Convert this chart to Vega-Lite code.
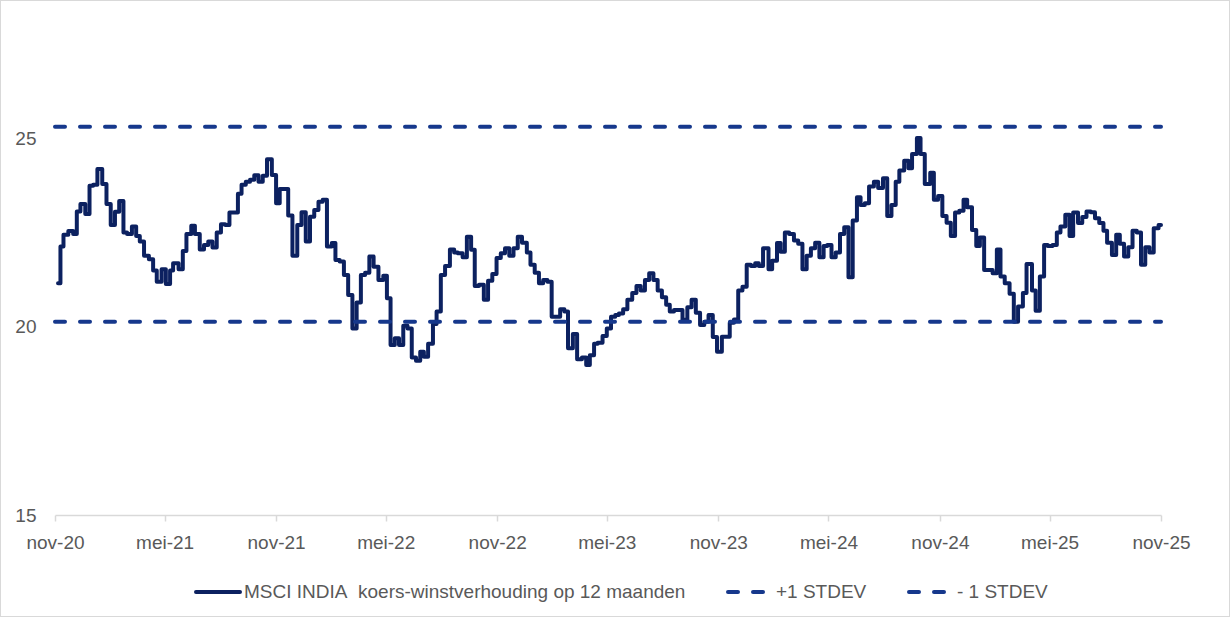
{
  "$schema": "https://vega.github.io/schema/vega-lite/v6.json",
  "width": 1230,
  "height": 617,
  "autosize": {"type": "none"},
  "padding": 0,
  "background": "white",
  "config": {
    "view": {"stroke": "#D9D9D9", "strokeWidth": 2},
    "font": "Liberation Sans"
  },
  "data": {
    "values": [
      {"d":"2020-11-06","v":21.16,"s":"a"},{"d":"2020-11-10","v":22.14,"s":"a"},{"d":"2020-11-15","v":22.45,"s":"a"},{"d":"2020-11-23","v":22.55,"s":"a"},
      {"d":"2020-12-01","v":22.47,"s":"a"},{"d":"2020-12-07","v":23.07,"s":"a"},{"d":"2020-12-13","v":23.27,"s":"a"},{"d":"2020-12-21","v":23.0,"s":"a"},
      {"d":"2020-12-28","v":23.75,"s":"a"},{"d":"2021-01-03","v":23.78,"s":"a"},{"d":"2021-01-10","v":24.2,"s":"a"},{"d":"2021-01-18","v":23.8,"s":"a"},
      {"d":"2021-01-25","v":23.27,"s":"a"},{"d":"2021-02-01","v":22.71,"s":"a"},{"d":"2021-02-08","v":23.06,"s":"a"},{"d":"2021-02-15","v":23.35,"s":"a"},
      {"d":"2021-02-22","v":22.51,"s":"a"},{"d":"2021-02-28","v":22.47,"s":"a"},{"d":"2021-03-08","v":22.67,"s":"a"},{"d":"2021-03-15","v":22.42,"s":"a"},
      {"d":"2021-03-21","v":22.27,"s":"a"},{"d":"2021-03-28","v":21.89,"s":"a"},{"d":"2021-04-05","v":21.8,"s":"a"},{"d":"2021-04-12","v":21.5,"s":"a"},
      {"d":"2021-04-18","v":21.2,"s":"a"},{"d":"2021-04-26","v":21.53,"s":"a"},{"d":"2021-05-03","v":21.14,"s":"a"},{"d":"2021-05-10","v":21.5,"s":"a"},
      {"d":"2021-05-15","v":21.69,"s":"a"},{"d":"2021-05-24","v":21.53,"s":"a"},{"d":"2021-05-31","v":22.02,"s":"a"},{"d":"2021-06-06","v":22.47,"s":"a"},
      {"d":"2021-06-14","v":22.69,"s":"a"},{"d":"2021-06-20","v":22.47,"s":"a"},{"d":"2021-06-28","v":22.06,"s":"a"},{"d":"2021-07-05","v":22.18,"s":"a"},
      {"d":"2021-07-12","v":22.27,"s":"a"},{"d":"2021-07-19","v":22.11,"s":"a"},{"d":"2021-07-26","v":22.51,"s":"a"},{"d":"2021-08-02","v":22.73,"s":"a"},
      {"d":"2021-08-09","v":22.71,"s":"a"},{"d":"2021-08-16","v":23.04,"s":"a"},{"d":"2021-08-30","v":23.54,"s":"a"},{"d":"2021-09-05","v":23.78,"s":"a"},
      {"d":"2021-09-12","v":23.86,"s":"a"},{"d":"2021-09-19","v":23.91,"s":"a"},{"d":"2021-09-26","v":24.03,"s":"a"},{"d":"2021-10-03","v":23.86,"s":"a"},
      {"d":"2021-10-10","v":24.02,"s":"a"},{"d":"2021-10-17","v":24.46,"s":"a"},{"d":"2021-10-25","v":24.04,"s":"a"},{"d":"2021-11-01","v":23.29,"s":"a"},
      {"d":"2021-11-07","v":23.67,"s":"a"},{"d":"2021-11-21","v":22.96,"s":"a"},{"d":"2021-11-28","v":21.89,"s":"a"},{"d":"2021-12-06","v":22.71,"s":"a"},
      {"d":"2021-12-13","v":23.05,"s":"a"},{"d":"2021-12-20","v":22.27,"s":"a"},{"d":"2021-12-27","v":22.93,"s":"a"},{"d":"2022-01-03","v":23.11,"s":"a"},
      {"d":"2022-01-10","v":23.33,"s":"a"},{"d":"2022-01-17","v":23.38,"s":"a"},{"d":"2022-01-24","v":22.14,"s":"a"},{"d":"2022-02-01","v":22.23,"s":"a"},
      {"d":"2022-02-07","v":21.78,"s":"a"},{"d":"2022-02-14","v":21.74,"s":"a"},{"d":"2022-02-21","v":21.38,"s":"a"},{"d":"2022-02-28","v":20.85,"s":"a"},
      {"d":"2022-03-07","v":19.96,"s":"a"},{"d":"2022-03-14","v":20.65,"s":"a"},{"d":"2022-03-21","v":21.38,"s":"a"},{"d":"2022-03-28","v":21.44,"s":"a"},
      {"d":"2022-04-04","v":21.87,"s":"a"},{"d":"2022-04-11","v":21.6,"s":"a"},{"d":"2022-04-19","v":21.25,"s":"a"},{"d":"2022-04-27","v":21.36,"s":"a"},
      {"d":"2022-05-03","v":20.76,"s":"a"},{"d":"2022-05-09","v":19.52,"s":"a"},{"d":"2022-05-16","v":19.7,"s":"a"},{"d":"2022-05-23","v":19.52,"s":"a"},
      {"d":"2022-05-30","v":20.03,"s":"a"},{"d":"2022-06-06","v":19.96,"s":"a"},{"d":"2022-06-13","v":19.19,"s":"a"},{"d":"2022-06-20","v":19.1,"s":"a"},
      {"d":"2022-06-27","v":19.34,"s":"a"},{"d":"2022-07-03","v":19.21,"s":"a"},{"d":"2022-07-10","v":19.55,"s":"a"},{"d":"2022-07-18","v":20.08,"s":"a"},
      {"d":"2022-07-24","v":20.41,"s":"a"},{"d":"2022-07-31","v":21.38,"s":"a"},{"d":"2022-08-07","v":21.62,"s":"a"},{"d":"2022-08-15","v":22.06,"s":"a"},
      {"d":"2022-08-22","v":21.98,"s":"a"},{"d":"2022-08-28","v":21.96,"s":"a"},{"d":"2022-09-05","v":21.85,"s":"a"},{"d":"2022-09-12","v":22.4,"s":"a"},
      {"d":"2022-09-19","v":22.05,"s":"a"},{"d":"2022-09-25","v":21.09,"s":"a"},{"d":"2022-10-02","v":21.12,"s":"a"},{"d":"2022-10-10","v":20.72,"s":"a"},
      {"d":"2022-10-17","v":21.23,"s":"a"},{"d":"2022-10-24","v":21.41,"s":"a"},{"d":"2022-10-31","v":21.83,"s":"a"},{"d":"2022-11-07","v":21.96,"s":"a"},
      {"d":"2022-11-14","v":22.09,"s":"a"},{"d":"2022-11-21","v":21.89,"s":"a"},{"d":"2022-11-28","v":22.09,"s":"a"},{"d":"2022-12-05","v":22.4,"s":"a"},
      {"d":"2022-12-12","v":22.24,"s":"a"},{"d":"2022-12-20","v":21.98,"s":"a"},{"d":"2022-12-26","v":21.65,"s":"a"},{"d":"2023-01-02","v":21.44,"s":"a"},
      {"d":"2023-01-09","v":21.16,"s":"a"},{"d":"2023-01-16","v":21.25,"s":"a"},{"d":"2023-01-23","v":21.2,"s":"a"},{"d":"2023-01-30","v":20.27,"s":"a"},
      {"d":"2023-02-13","v":20.47,"s":"a"},{"d":"2023-02-20","v":20.41,"s":"a"},{"d":"2023-02-26","v":19.43,"s":"a"},{"d":"2023-03-06","v":19.81,"s":"a"},
      {"d":"2023-03-13","v":19.14,"s":"a"},{"d":"2023-03-21","v":19.19,"s":"a"},{"d":"2023-03-28","v":18.99,"s":"a"},{"d":"2023-04-03","v":19.25,"s":"a"},
      {"d":"2023-04-10","v":19.55,"s":"a"},{"d":"2023-04-16","v":19.58,"s":"a"},{"d":"2023-04-24","v":19.76,"s":"a"},{"d":"2023-05-01","v":19.96,"s":"a"},
      {"d":"2023-05-08","v":20.27,"s":"a"},{"d":"2023-05-15","v":20.32,"s":"a"},{"d":"2023-05-21","v":20.36,"s":"a"},{"d":"2023-05-28","v":20.47,"s":"a"},
      {"d":"2023-06-04","v":20.72,"s":"a"},{"d":"2023-06-12","v":20.9,"s":"a"},{"d":"2023-06-19","v":21.09,"s":"a"},{"d":"2023-06-26","v":20.97,"s":"a"},
      {"d":"2023-07-03","v":21.25,"s":"a"},{"d":"2023-07-10","v":21.43,"s":"a"},{"d":"2023-07-17","v":21.25,"s":"a"},{"d":"2023-07-24","v":20.97,"s":"a"},
      {"d":"2023-07-31","v":20.79,"s":"a"},{"d":"2023-08-07","v":20.59,"s":"a"},{"d":"2023-08-13","v":20.41,"s":"a"},{"d":"2023-08-20","v":20.45,"s":"a"},
      {"d":"2023-09-03","v":20.19,"s":"a"},{"d":"2023-09-11","v":20.52,"s":"a"},{"d":"2023-09-18","v":20.72,"s":"a"},{"d":"2023-09-25","v":20.38,"s":"a"},
      {"d":"2023-10-02","v":20.05,"s":"a"},{"d":"2023-10-09","v":20.14,"s":"a"},{"d":"2023-10-16","v":20.32,"s":"a"},{"d":"2023-10-23","v":19.73,"s":"a"},
      {"d":"2023-10-30","v":19.34,"s":"a"},{"d":"2023-11-07","v":19.74,"s":"a"},{"d":"2023-11-20","v":20.11,"s":"a"},{"d":"2023-11-27","v":20.2,"s":"a"},
      {"d":"2023-12-04","v":20.97,"s":"a"},{"d":"2023-12-11","v":21.07,"s":"a"},{"d":"2023-12-18","v":21.65,"s":"a"},{"d":"2023-12-25","v":21.62,"s":"a"},
      {"d":"2024-01-01","v":21.69,"s":"a"},{"d":"2024-01-07","v":21.62,"s":"a"},{"d":"2024-01-14","v":22.09,"s":"a"},{"d":"2024-01-23","v":21.53,"s":"a"},
      {"d":"2024-01-29","v":21.76,"s":"a"},{"d":"2024-02-06","v":22.23,"s":"a"},{"d":"2024-02-12","v":22.0,"s":"a"},{"d":"2024-02-19","v":22.51,"s":"a"},
      {"d":"2024-02-26","v":22.47,"s":"a"},{"d":"2024-03-05","v":22.3,"s":"a"},{"d":"2024-03-12","v":22.21,"s":"a"},{"d":"2024-03-19","v":21.53,"s":"a"},
      {"d":"2024-03-26","v":21.89,"s":"a"},{"d":"2024-04-02","v":22.09,"s":"a"},{"d":"2024-04-09","v":22.24,"s":"a"},{"d":"2024-04-16","v":21.85,"s":"a"},
      {"d":"2024-04-23","v":22.15,"s":"a"},{"d":"2024-04-29","v":22.18,"s":"a"},{"d":"2024-05-06","v":21.85,"s":"a"},{"d":"2024-05-13","v":21.98,"s":"a"},
      {"d":"2024-05-20","v":22.47,"s":"a"},{"d":"2024-05-27","v":22.65,"s":"a"},{"d":"2024-06-03","v":21.32,"s":"a"},{"d":"2024-06-10","v":22.83,"s":"a"},
      {"d":"2024-06-17","v":23.45,"s":"a"},{"d":"2024-06-23","v":23.24,"s":"a"},{"d":"2024-06-30","v":23.29,"s":"a"},{"d":"2024-07-07","v":23.73,"s":"a"},
      {"d":"2024-07-15","v":23.86,"s":"a"},{"d":"2024-07-22","v":23.69,"s":"a"},{"d":"2024-07-30","v":23.95,"s":"a"},{"d":"2024-08-06","v":22.95,"s":"a"},
      {"d":"2024-08-13","v":23.24,"s":"a"},{"d":"2024-08-20","v":23.86,"s":"a"},{"d":"2024-08-26","v":24.16,"s":"a"},{"d":"2024-09-03","v":24.42,"s":"a"},
      {"d":"2024-09-10","v":24.22,"s":"a"},{"d":"2024-09-16","v":24.6,"s":"a"},{"d":"2024-09-24","v":25.02,"s":"a"},{"d":"2024-09-30","v":24.6,"s":"a"},
      {"d":"2024-10-07","v":23.8,"s":"a"},{"d":"2024-10-16","v":24.1,"s":"a"},{"d":"2024-10-22","v":23.38,"s":"a"},{"d":"2024-10-29","v":23.48,"s":"a"},
      {"d":"2024-11-05","v":22.95,"s":"a"},{"d":"2024-11-12","v":22.77,"s":"a"},{"d":"2024-11-19","v":22.42,"s":"a"},{"d":"2024-11-26","v":23.04,"s":"a"},
      {"d":"2024-12-03","v":23.09,"s":"a"},{"d":"2024-12-10","v":23.38,"s":"a"},{"d":"2024-12-16","v":23.18,"s":"a"},{"d":"2024-12-24","v":22.58,"s":"a"},
      {"d":"2024-12-31","v":22.15,"s":"a"},{"d":"2025-01-06","v":22.38,"s":"a"},{"d":"2025-01-13","v":21.51,"s":"a"},{"d":"2025-01-27","v":21.43,"s":"a"},
      {"d":"2025-02-03","v":22.06,"s":"a"},{"d":"2025-02-09","v":21.34,"s":"a"},{"d":"2025-02-16","v":21.16,"s":"a"},{"d":"2025-02-24","v":20.88,"s":"a"},
      {"d":"2025-03-03","v":20.14,"s":"a"},{"d":"2025-03-10","v":20.54,"s":"a"},{"d":"2025-03-18","v":20.9,"s":"a"},{"d":"2025-03-24","v":21.67,"s":"a"},
      {"d":"2025-04-02","v":20.97,"s":"a"},{"d":"2025-04-08","v":20.43,"s":"a"},{"d":"2025-04-15","v":21.34,"s":"a"},{"d":"2025-04-22","v":22.18,"s":"a"},
      {"d":"2025-04-28","v":22.15,"s":"a"},{"d":"2025-05-06","v":22.18,"s":"a"},{"d":"2025-05-13","v":22.51,"s":"a"},{"d":"2025-05-19","v":22.67,"s":"a"},
      {"d":"2025-05-27","v":22.98,"s":"a"},{"d":"2025-06-03","v":22.42,"s":"a"},{"d":"2025-06-09","v":23.04,"s":"a"},{"d":"2025-06-17","v":22.76,"s":"a"},
      {"d":"2025-06-24","v":22.92,"s":"a"},{"d":"2025-07-01","v":23.07,"s":"a"},{"d":"2025-07-08","v":23.05,"s":"a"},{"d":"2025-07-15","v":22.89,"s":"a"},
      {"d":"2025-07-22","v":22.76,"s":"a"},{"d":"2025-07-29","v":22.56,"s":"a"},{"d":"2025-08-04","v":22.24,"s":"a"},{"d":"2025-08-12","v":21.91,"s":"a"},
      {"d":"2025-08-19","v":22.45,"s":"a"},{"d":"2025-08-25","v":22.21,"s":"a"},{"d":"2025-09-01","v":21.87,"s":"a"},{"d":"2025-09-08","v":22.12,"s":"a"},
      {"d":"2025-09-15","v":22.56,"s":"a"},{"d":"2025-09-22","v":22.51,"s":"a"},{"d":"2025-09-29","v":21.65,"s":"a"},{"d":"2025-10-06","v":22.12,"s":"a"},
      {"d":"2025-10-13","v":21.98,"s":"a"},{"d":"2025-10-20","v":22.62,"s":"a"},{"d":"2025-10-28","v":22.71,"s":"a"},{"d":"2025-11-01","v":22.71,"s":"a"},
      {"d":"2020-11-01","v":25.32,"s":"b"},{"d":"2025-11-01","v":25.32,"s":"b"},
      {"d":"2020-11-01","v":20.14,"s":"c"},{"d":"2025-11-01","v":20.14,"s":"c"}
    ]
  },
  "mark": {"type": "line", "interpolate": "step-after", "strokeWidth": 4, "strokeCap": "round", "strokeJoin": "round", "clip": false},
  "encoding": {
    "x": {
      "field": "d",
      "type": "temporal",
      "scale": {
        "type": "utc",
        "domain": [{"year": 2020, "month": 11, "date": 1, "utc": true}, {"year": 2025, "month": 11, "date": 1, "utc": true}],
        "range": [55, 1161]
      },
      "axis": {
        "title": null,
        "offset": -102,
        "values": [
          {"year": 2020, "month": 11, "date": 1, "utc": true},
          {"year": 2021, "month": 5, "date": 1, "utc": true},
          {"year": 2021, "month": 11, "date": 1, "utc": true},
          {"year": 2022, "month": 5, "date": 1, "utc": true},
          {"year": 2022, "month": 11, "date": 1, "utc": true},
          {"year": 2023, "month": 5, "date": 1, "utc": true},
          {"year": 2023, "month": 11, "date": 1, "utc": true},
          {"year": 2024, "month": 5, "date": 1, "utc": true},
          {"year": 2024, "month": 11, "date": 1, "utc": true},
          {"year": 2025, "month": 5, "date": 1, "utc": true},
          {"year": 2025, "month": 11, "date": 1, "utc": true}
        ],
        "labelExpr": "(utcmonth(datum.value) == 4 ? 'mei' : 'nov') + '-' + utcFormat(datum.value, '%y')",
        "grid": false,
        "domainColor": "#D9D9D9",
        "domainWidth": 1.5,
        "tickColor": "#D9D9D9",
        "tickWidth": 1.5,
        "tickSize": 6,
        "labelPadding": 12,
        "labelFont": "Liberation Sans",
        "labelFontSize": 19,
        "labelColor": "#595959",
        "labelFlush": false,
        "labelOverlap": false
      }
    },
    "y": {
      "field": "v",
      "type": "quantitative",
      "scale": {"domain": [15, 28], "range": [515, 26], "nice": false, "zero": false},
      "axis": {
        "title": null,
        "offset": -55,
        "values": [15, 20, 25],
        "grid": false,
        "domain": false,
        "ticks": false,
        "labelPadding": 19,
        "labelFont": "Liberation Sans",
        "labelFontSize": 19,
        "labelColor": "#595959"
      }
    },
    "color": {
      "field": "s",
      "type": "nominal",
      "scale": {"domain": ["a", "b", "c"], "range": ["#0C2160", "#16388C", "#16388C"]},
      "legend": {
        "title": null,
        "orient": "none",
        "direction": "horizontal",
        "legendX": 194,
        "legendY": 568,
        "symbolType": "stroke",
        "symbolSize": 1936,
        "symbolStrokeWidth": 4,
        "labelFont": "Liberation Sans",
        "labelFontSize": 19,
        "labelColor": "#595959",
        "labelOffset": 2,
        "columnPadding": 34,
        "labelLimit": 0,
        "labelExpr": "datum.value == 'a' ? 'MSCI INDIA\u00a0 koers-winstverhouding op 12 maanden' : (datum.value == 'b' ? '+1 STDEV' : '- 1 STDEV')",
        "encode": {"symbols": {"update": {"strokeCap": {"value": "round"}}}}
      }
    },
    "strokeDash": {
      "field": "s",
      "type": "nominal",
      "scale": {"domain": ["a", "b", "c"], "range": [[1, 0], [10, 15], [10, 15]]},
      "legend": null
    }
  }
}
